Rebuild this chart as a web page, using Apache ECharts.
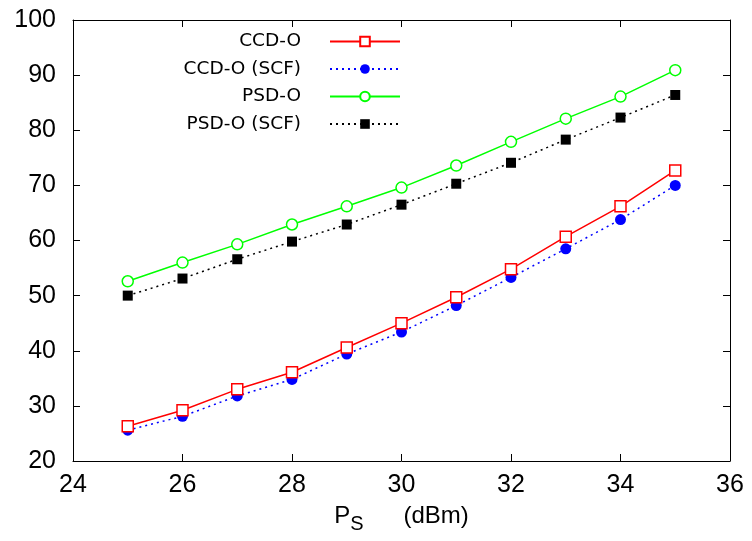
<!DOCTYPE html>
<html>
<head>
<meta charset="utf-8">
<script src="https://cdn.jsdelivr.net/npm/echarts@6/dist/echarts.min.js"></script>
<style>
  html, body { margin: 0; padding: 0; background: #fff; }
  #chart { width: 752px; height: 541px; }
</style>
</head>
<body>
<div id="chart"></div>
<script>
// Transmit power (dBm)
const power = [25, 26, 27, 28, 29, 30, 31, 32, 33, 34, 35];

const ccdO    = [26.3, 29.2, 33.0, 36.1, 40.6, 45.0, 49.7, 54.8, 60.7, 66.2, 72.7];
const ccdOScf = [25.6, 28.1, 31.8, 34.8, 39.4, 43.4, 48.2, 53.3, 58.5, 63.8, 70.0];
const psdO    = [52.6, 56.0, 59.3, 62.9, 66.2, 69.6, 73.6, 77.9, 82.1, 86.1, 90.9];
const psdOScf = [50.0, 53.1, 56.6, 59.8, 62.9, 66.5, 70.3, 74.1, 78.3, 82.3, 86.4];

const seriesNames = ['CCD-O', 'CCD-O (SCF)', 'PSD-O', 'PSD-O (SCF)'];

const font = 'Liberation Sans, Arial, Helvetica, sans-serif';
const legendFont = 'DejaVu Sans, sans-serif';

function pairs(ys) {
  return power.map((x, i) => [x, ys[i]]);
}

const chart = echarts.init(document.getElementById('chart'), null, { renderer: 'canvas' });

const axisCommon = {
  axisLine: { show: true, onZero: false, lineStyle: { color: '#000', width: 1 } },
  axisTick: { show: true, inside: true, length: 7, lineStyle: { color: '#000', width: 1 } },
  splitLine: { show: false }
};

chart.setOption({
  animation: false,
  backgroundColor: '#fff',
  grid: {
    left: 73, right: 22, top: 20, bottom: 80, show: false,
    containLabel: false, outerBoundsMode: 'none'
  },
  legend: {
    orient: 'vertical',
    left: 161,
    top: 27,
    itemGap: 8.5,
    align: 'right',
    itemWidth: 70,
    itemHeight: 12,
    textStyle: {
      fontFamily: legendFont, fontSize: 18.5, lineHeight: 18, color: '#000',
      width: 135, align: 'right', padding: [0, 24, 0, 0]
    },
    data: seriesNames
  },
  xAxis: [
    Object.assign({
      type: 'value', min: 24, max: 36, interval: 2, position: 'bottom',
      axisLabel: { fontFamily: font, fontSize: 25, color: '#000', margin: 12 },
      name: '{p|P}{s|S}{p|      (dBm)}',
      nameLocation: 'middle',
      nameGap: 37,
      nameTextStyle: {
        rich: {
          p: { fontFamily: font, fontSize: 24, color: '#000' },
          s: { fontFamily: font, fontSize: 20, color: '#000', verticalAlign: 'bottom', padding: [16, 0, 0, 0] }
        }
      }
    }, axisCommon),
    Object.assign({
      type: 'value', min: 24, max: 36, interval: 2, position: 'top',
      axisLabel: { show: false }
    }, axisCommon)
  ],
  yAxis: [
    Object.assign({
      type: 'value', min: 20, max: 100, interval: 10, position: 'left',
      axisLabel: { fontFamily: font, fontSize: 25, color: '#000', margin: 17 }
    }, axisCommon),
    Object.assign({
      type: 'value', min: 20, max: 100, interval: 10, position: 'right',
      axisLabel: { show: false }
    }, axisCommon)
  ],
  series: [
    {
      name: seriesNames[0], type: 'line', data: pairs(ccdO),
      symbol: 'rect', symbolSize: 11,
      itemStyle: { color: '#fff', borderColor: '#ff0000', borderWidth: 1.5 },
      lineStyle: { color: '#ff0000', width: 1.5 }, color: '#ff0000', z: 3
    },
    {
      name: seriesNames[1], type: 'line', data: pairs(ccdOScf),
      symbol: 'circle', symbolSize: 11,
      itemStyle: { color: '#0000ff', borderColor: '#0000ff', borderWidth: 0 },
      lineStyle: { color: '#0000ff', width: 1.5, type: [2, 4] }, color: '#0000ff', z: 2
    },
    {
      name: seriesNames[2], type: 'line', data: pairs(psdO),
      symbol: 'circle', symbolSize: 11,
      itemStyle: { color: '#fff', borderColor: '#00ff00', borderWidth: 1.5 },
      lineStyle: { color: '#00ff00', width: 1.5 }, color: '#00ff00', z: 3
    },
    {
      name: seriesNames[3], type: 'line', data: pairs(psdOScf),
      symbol: 'rect', symbolSize: 10,
      itemStyle: { color: '#000', borderColor: '#000', borderWidth: 0 },
      lineStyle: { color: '#000', width: 1.5, type: [2, 4] }, color: '#000', z: 2
    }
  ]
});
</script>
</body>
</html>
